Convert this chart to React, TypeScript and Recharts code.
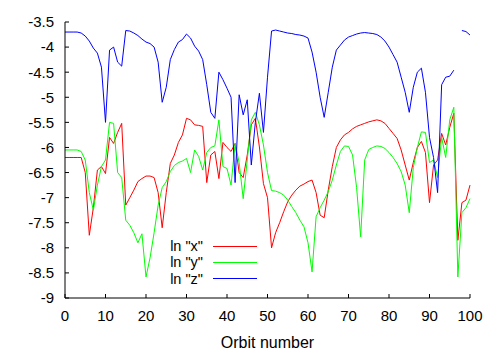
import { LineChart, Line, XAxis, YAxis, Legend } from 'recharts'

const orbits = [
  0, 1, 2, 3, 4, 5, 6, 7, 8, 9, 10, 11, 12, 13, 14, 15, 16, 17, 18, 19, 20,
  21, 22, 23, 24, 25, 26, 27, 28, 29, 30, 31, 32, 33, 34, 35, 36, 37, 38, 39, 40,
  41, 42, 43, 44, 45, 46, 47, 48, 49, 50, 51, 52, 53, 54, 55, 56, 57, 58, 59, 60,
  61, 62, 63, 64, 65, 66, 67, 68, 69, 70, 71, 72, 73, 74, 75, 76, 77, 78, 79, 80,
  81, 82, 83, 84, 85, 86, 87, 88, 89, 90, 91, 92, 93, 94, 95, 96, 97, 98, 99, 100,
]

// ln "x"
const lnX = [
  -6.2, -6.2, -6.2, -6.2, -6.2, -6.5, -7.75, -7.2, -6.45, -6.38,
  -6.52, -5.8, -5.92, -5.7, -5.52, -7.15, -7.0, -6.85, -6.68, -6.62,
  -6.57, -6.57, -6.6, -6.9, -7.6, -6.9, -6.32, -6.15, -5.9, -5.75,
  -5.42, -5.45, -5.55, -5.56, -5.58, -6.7, -6.15, -6.08, -6.62, -5.9,
  -6.0, -6.08, -5.92, -6.5, -6.6, -6.15, -5.55, -5.42, -5.99, -6.72,
  -7.0, -8.0, -7.7, -7.5, -7.28, -7.08, -6.95, -6.85, -6.77, -6.73,
  -6.68, -6.65, -6.9, -7.35, -7.4, -6.85, -6.38, -6.0, -5.85, -5.75,
  -5.7, -5.63, -5.58, -5.55, -5.52, -5.49, -5.47, -5.45, -5.47, -5.52,
  -5.62, -5.72, -5.82, -6.05, -6.35, -6.65, -6.3, -6.0, -5.88, -6.1,
  -7.1, -6.35, -6.25, -5.72, -5.95, -5.6, -5.32, -7.85, -7.1, -7.05,
  -6.75,
]

// ln "y"
const lnY = [
  -6.05, -6.05, -6.05, -6.05, -6.08, -6.25, -6.9, -7.25, -6.75, -6.38,
  -6.25, -5.5, -5.52, -6.5, -6.6, -7.45, -7.55, -7.7, -7.9, -7.72,
  -8.58, -8.2, -7.7, -7.15, -6.8, -6.68, -6.48, -6.36, -6.3, -6.27,
  -6.22, -6.5, -6.05, -6.18, -6.45, -6.1, -6.0, -5.97, -5.45, -6.38,
  -6.42, -6.75, -5.92, -6.3, -7.02, -6.25, -5.45, -5.3, -5.55, -5.95,
  -6.5, -6.86, -6.87, -6.9, -6.95, -7.05, -7.18, -7.3, -7.45, -7.58,
  -7.9, -8.48, -7.38, -7.2, -7.05, -6.88, -6.65, -6.35, -6.08, -5.97,
  -5.98, -6.15, -6.8, -7.78, -6.25, -6.04, -6.0, -5.97, -5.98, -6.02,
  -6.1, -6.2, -6.32, -6.48, -6.75, -7.3, -6.4, -6.0, -5.69, -5.7,
  -6.3, -6.25, -6.6, -5.8, -6.2, -5.45, -5.2, -8.58, -7.3, -7.2,
  -7.02,
]

// ln "z"
const lnZ = [
  -3.7, -3.7, -3.7, -3.7, -3.72, -3.78, -3.88, -4.02, -4.12, -4.4,
  -5.5, -4.06, -4.0, -4.3, -4.38, -3.67, -3.68, -3.72, -3.77, -3.84,
  -3.9, -3.93, -4.0, -4.3, -5.1, -4.8, -4.25, -4.05, -3.9, -3.85,
  -3.74, -3.82, -3.98, -4.08, -4.25, -4.75, -5.3, -5.42, -4.5, -4.65,
  -4.82, -5.0, -6.7, -4.95, -5.35, -5.05, -6.35, -5.5, -4.92, -5.7,
  -4.6, -3.68, -3.66, -3.68, -3.7, -3.72, -3.73, -3.75, -3.76, -3.78,
  -3.82, -4.1, -4.5, -5.0, -5.4, -4.9, -4.4, -4.06, -3.96, -3.86,
  -3.8, -3.77, -3.74, -3.72, -3.71, -3.72, -3.73, -3.75, -3.8, -3.88,
  -4.0, -4.15, -4.3, -4.6, -4.9, -5.3, -4.8, -4.5, -4.42, -4.9,
  -5.8, -6.2, -6.9, -4.75, -4.6, -4.58, -4.46, null, -3.67, -3.69,
  -3.76,
]

const xTicks = [0, 10, 20, 30, 40, 50, 60, 70, 80, 90, 100]
const yTicks = [-9, -8.5, -8, -7.5, -7, -6.5, -6, -5.5, -5, -4.5, -4, -3.5]

const data = orbits.map((orbit, i) => ({
  orbit,
  x: lnX[i],
  y: lnY[i],
  z: lnZ[i],
}))

const font = '"Liberation Sans", Arial, Helvetica, sans-serif'
const TICK = 4 // gnuplot style inward ticks
const GAP = 12 // label distance from frame

// bottom axis: inward tick + label
function BottomTick({ x, y, payload }: any) {
  return (
    <g>
      <line x1={x} x2={x} y1={y - GAP} y2={y - GAP - TICK} stroke="#000" />
      <text x={x} y={y} dy="0.71em" textAnchor="middle" fontSize={15} fill="#000">
        {payload.value}
      </text>
    </g>
  )
}

function TopTick({ x, y }: any) {
  return <line x1={x} x2={x} y1={y} y2={y + TICK} stroke="#000" />
}

function LeftTick({ x, y, payload }: any) {
  return (
    <g>
      <line x1={x + 11} x2={x + 11 + TICK} y1={y} y2={y} stroke="#000" />
      <text x={x} y={y} dy="0.355em" textAnchor="end" fontSize={15} fill="#000">
        {payload.value}
      </text>
    </g>
  )
}

function RightTick({ x, y }: any) {
  return <line x1={x} x2={x - TICK} y1={y} y2={y} stroke="#000" />
}

function Key({ payload }: any) {
  return (
    <div style={{ fontFamily: font, fontSize: 14.5, color: '#000' }}>
      {(payload ?? []).map((item: any) => (
        <div key={item.value} style={{ display: 'flex', alignItems: 'center', height: 16.3 }}>
          <span style={{ width: 46, textAlign: 'right', lineHeight: '16px', whiteSpace: 'nowrap' }}>
            {item.value}
          </span>
          <span style={{ width: 44, marginLeft: 10, borderTop: `1px solid ${item.color}` }} />
        </div>
      ))}
    </div>
  )
}

export default function App() {
  return (
    <div style={{ position: 'absolute', left: 0, top: 0, background: '#fff' }}>
      <LineChart
        width={502}
        height={352}
        data={data}
        margin={{ top: 22, right: 32, bottom: 0, left: 0 }}
        style={{ fontFamily: font }}
      >
        <XAxis
          dataKey="orbit"
          type="number"
          domain={[0, 100]}
          ticks={xTicks}
          interval={0}
          height={54}
          stroke="#000"
          tickLine={false}
          tickSize={0}
          tickMargin={GAP}
          tick={<BottomTick />}
          label={{ value: 'Orbit number', position: 'insideBottom', offset: 4, fill: '#000', fontSize: 16 }}
        />
        <XAxis
          xAxisId="top"
          orientation="top"
          dataKey="orbit"
          type="number"
          domain={[0, 100]}
          ticks={xTicks}
          interval={0}
          height={0}
          stroke="#000"
          tickLine={false}
          tickSize={0}
          tickMargin={0}
          tick={<TopTick />}
        />
        <YAxis
          type="number"
          domain={[-9, -3.5]}
          ticks={yTicks}
          interval={0}
          width={65}
          stroke="#000"
          tickLine={false}
          tickSize={0}
          tickMargin={11}
          tick={<LeftTick />}
        />
        <YAxis
          yAxisId="right"
          orientation="right"
          type="number"
          domain={[-9, -3.5]}
          ticks={yTicks}
          interval={0}
          width={0}
          stroke="#000"
          tickLine={false}
          tickSize={0}
          tickMargin={0}
          tick={<RightTick />}
        />
        <Legend
          layout="vertical"
          align="center"
          verticalAlign="middle"
          content={<Key />}
          wrapperStyle={{ left: 157, top: 238, width: 110 }}
        />
        <Line name='ln "x"' dataKey="x" type="linear" stroke="#ff0000" strokeWidth={1} dot={false} isAnimationActive={false} />
        <Line name='ln "y"' dataKey="y" type="linear" stroke="#00ff00" strokeWidth={1} dot={false} isAnimationActive={false} />
        <Line name='ln "z"' dataKey="z" type="linear" stroke="#0000ff" strokeWidth={1} dot={false} isAnimationActive={false} />
      </LineChart>
    </div>
  )
}
